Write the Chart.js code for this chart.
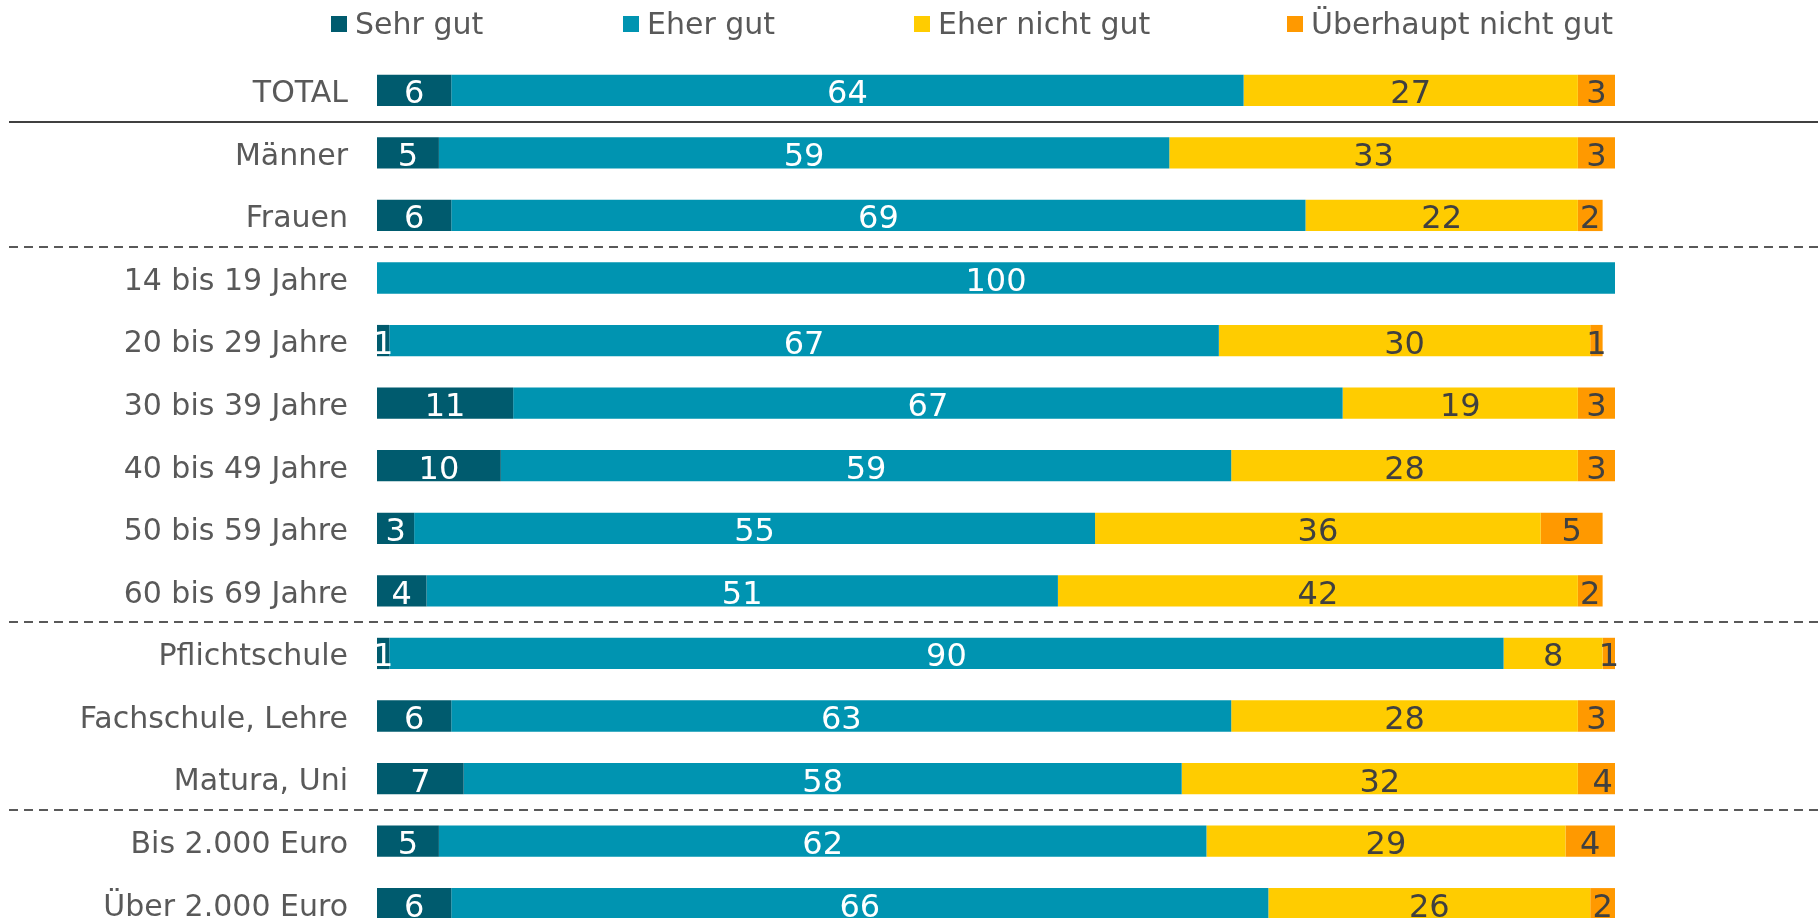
<!DOCTYPE html>
<html>
<head>
<meta charset="utf-8">
<script src="https://cdn.jsdelivr.net/npm/chart.js@4/dist/chart.umd.min.js"></script>
<style>
    html, body { margin: 0; padding: 0; background: #fff; overflow: hidden; }
    #chart { display: block; }
</style>
</head>
<body>
<canvas id="chart" width="1818" height="940"></canvas>
<script>
const categories = [
    'TOTAL', 'Männer', 'Frauen',
    '14 bis 19 Jahre', '20 bis 29 Jahre', '30 bis 39 Jahre', '40 bis 49 Jahre', '50 bis 59 Jahre', '60 bis 69 Jahre',
    'Pflichtschule', 'Fachschule, Lehre', 'Matura, Uni',
    'Bis 2.000 Euro', 'Über 2.000 Euro'
];
const seriesNames = ['Sehr gut', 'Eher gut', 'Eher nicht gut', 'Überhaupt nicht gut'];
const sehrGut = [6, 5, 6, 0, 1, 11, 10, 3, 4, 1, 6, 7, 5, 6];
const eherGut = [64, 59, 69, 100, 67, 67, 59, 55, 51, 90, 63, 58, 62, 66];
const eherNichtGut = [27, 33, 22, 0, 30, 19, 28, 36, 42, 8, 28, 32, 29, 26];
const ueberhauptNichtGut = [3, 3, 2, 0, 1, 3, 3, 5, 2, 1, 3, 4, 4, 2];

// group separators: index of the row above the line
const solidAfter = [0];
const dashedAfter = [2, 8, 11];

const colors = ['#005b6e', '#0094b1', '#ffcc00', '#ff9900'];
const valueColors = ['#ffffff', '#ffffff', '#404040', '#404040'];
const legendX = [331, 623, 914, 1287];
const FONT = '"DejaVu Sans", Verdana, sans-serif';

const legendPlugin = {
    id: 'customLegend',
    afterDraw(chart) {
        const ctx = chart.ctx;
        ctx.save();
        ctx.font = '30px ' + FONT;
        ctx.textBaseline = 'middle';
        ctx.textAlign = 'left';
        chart.data.datasets.forEach((ds, i) => {
            ctx.fillStyle = ds.backgroundColor;
            ctx.fillRect(legendX[i], 16, 16, 16);
            ctx.fillStyle = '#595959';
            ctx.fillText(ds.label, legendX[i] + 24, 26);
        });
        ctx.restore();
    }
};

const separatorPlugin = {
    id: 'separators',
    afterDraw(chart) {
        const ctx = chart.ctx;
        const y = chart.scales.y;
        const step = y.getPixelForValue(1) - y.getPixelForValue(0);
        ctx.save();
        ctx.lineWidth = 2;
        ctx.strokeStyle = '#404040';
        solidAfter.forEach(i => {
            const py = Math.round(y.getPixelForValue(i) + step / 2);
            ctx.setLineDash([]);
            ctx.beginPath();
            ctx.moveTo(9, py);
            ctx.lineTo(chart.width, py);
            ctx.stroke();
        });
        ctx.strokeStyle = '#595959';
        dashedAfter.forEach(i => {
            const py = Math.round(y.getPixelForValue(i) + step / 2);
            ctx.setLineDash([9, 6]);
            ctx.beginPath();
            ctx.moveTo(9, py);
            ctx.lineTo(chart.width, py);
            ctx.stroke();
        });
        ctx.restore();
    }
};

const valueLabelPlugin = {
    id: 'valueLabels',
    afterDatasetsDraw(chart) {
        const ctx = chart.ctx;
        ctx.save();
        ctx.font = '32px ' + FONT;
        ctx.textAlign = 'center';
        ctx.textBaseline = 'alphabetic';
        chart.data.datasets.forEach((ds, di) => {
            const meta = chart.getDatasetMeta(di);
            meta.data.forEach((bar, i) => {
                const v = ds.data[i];
                if (!v) return;
                const cx = (bar.x + bar.base) / 2;
                ctx.fillStyle = valueColors[di];
                ctx.fillText(String(v), cx, bar.y + 13);
            });
        });
        ctx.restore();
    }
};

const seriesData = [sehrGut, eherGut, eherNichtGut, ueberhauptNichtGut];

new Chart(document.getElementById('chart').getContext('2d'), {
    type: 'bar',
    data: {
        labels: categories,
        datasets: seriesNames.map((name, i) => ({
            label: name,
            data: seriesData[i],
            backgroundColor: colors[i],
            borderWidth: 0,
            barPercentage: 0.5,
            categoryPercentage: 1
        }))
    },
    options: {
        indexAxis: 'y',
        responsive: false,
        animation: false,
        layout: {
            padding: { top: 59, right: 203, bottom: 5, left: 0 }
        },
        plugins: {
            legend: { display: false },
            tooltip: { enabled: false }
        },
        scales: {
            x: {
                stacked: true,
                min: 0,
                max: 100,
                display: false
            },
            y: {
                stacked: true,
                grid: { display: false },
                border: { display: false },
                ticks: {
                    color: '#595959',
                    padding: 21,
                    labelOffset: 4,
                    font: { family: FONT, size: 30 }
                },
                afterFit(scale) {
                    scale.width = 377;
                    scale.paddingTop = 0;
                    scale.paddingBottom = 0;
                }
            }
        }
    },
    plugins: [legendPlugin, separatorPlugin, valueLabelPlugin]
});
</script>
</body>
</html>
